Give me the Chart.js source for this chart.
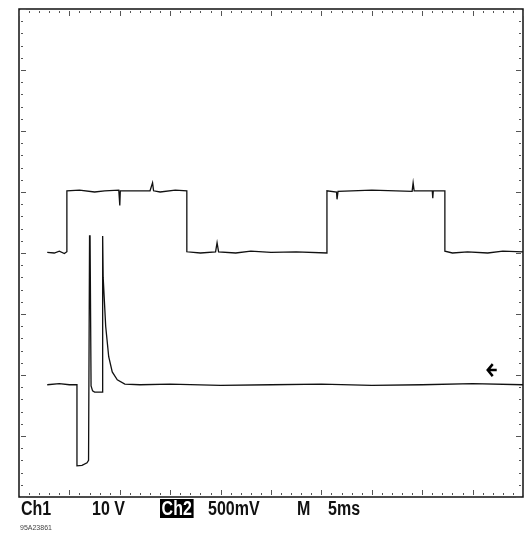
<!DOCTYPE html>
<html><head><meta charset="utf-8">
<script src="https://cdn.jsdelivr.net/npm/chart.js@4"></script>
<style>
body{margin:0;background:#fff;width:532px;height:542px;overflow:hidden;position:relative;font-family:"Liberation Sans Narrow","Liberation Sans",Arial,sans-serif}
#c{position:absolute;left:0;top:0}
.t{position:absolute;top:497px;font-size:20px;font-weight:bold;color:#111;transform:scaleX(0.8);transform-origin:left}
.inv{background:#000;color:#fff;padding:0 2px;line-height:19px;top:499px}
.s{position:absolute;left:20px;top:524px;font-size:7px;color:#444;font-family:"Liberation Sans",Arial}
</style></head><body>
<canvas id="c" width="532" height="542"></canvas>
<div class="t" style="left:21px">Ch1</div>
<div class="t" style="left:92px">10 V</div>
<div class="t inv" style="left:160px">Ch2</div>
<div class="t" style="left:208px">500mV</div>
<div class="t" style="left:297px">M</div>
<div class="t" style="left:328px">5ms</div>
<div class="s">95A23861</div>
<script>
// divisions: x 0..10, y 0..8
const ch1X = [0.56,0.7,0.8,0.9,0.95,0.95,1.2,1.5,1.7,1.98,2.0,2.01,2.1,2.6,2.65,2.67,2.8,3.1,3.33,3.33,3.6,3.9,3.93,3.96,4.3,4.6,5.0,5.5,6.11,6.11,6.3,6.31,6.33,6.6,7.0,7.8,7.82,7.84,8.2,8.21,8.22,8.45,8.45,8.6,8.9,9.3,9.6,10];
const ch1Y = [4.01,4.0,4.03,3.99,4.02,5.02,5.03,5.0,5.02,5.03,4.78,5.02,5.02,5.02,5.15,5.02,5.0,5.03,5.02,4.02,4.0,4.02,4.17,4.02,4.0,4.03,4.01,4.02,4.0,5.02,5.0,4.88,5.01,5.02,5.03,5.01,5.15,5.02,5.02,4.9,5.02,5.02,4.03,4.0,4.02,4.0,4.03,4.02];
const ch2X = [0.56,0.8,1.0,1.15,1.15,1.25,1.35,1.38,1.4,1.41,1.43,1.46,1.5,1.65,1.66,1.67,1.72,1.78,1.85,1.95,2.1,2.4,3,4,5,6,7,8,9,10];
const ch2Y = [1.84,1.86,1.84,1.84,0.51,0.52,0.56,0.6,4.28,4.28,1.82,1.74,1.72,1.72,4.28,3.6,2.8,2.3,2.05,1.92,1.85,1.84,1.85,1.83,1.84,1.85,1.83,1.84,1.86,1.84];
const pts=(xs,ys)=>xs.map((x,i)=>({x,y:ys[i]}));
const frame={id:'frame',afterDraw(ch){
 const {ctx,scales:{x,y},chartArea:a}=ch;
 ctx.save();ctx.strokeStyle='#111';ctx.lineWidth=1.5;ctx.strokeRect(a.left,a.top,a.right-a.left,a.bottom-a.top);
 ctx.fillStyle='#555';
 for(let v=0;v<=10.001;v+=0.2){const px=Math.round(x.getPixelForValue(v));const maj=Math.abs(v-Math.round(v))<0.01;
  ctx.fillRect(px,a.top+2,1,maj?5:2);ctx.fillRect(px,a.bottom-(maj?7:4),1,maj?5:2);}
 for(let v=0;v<=8.001;v+=0.2){const py=Math.round(y.getPixelForValue(v));const maj=Math.abs(v-Math.round(v))<0.01;
  ctx.fillRect(a.left+2,py,maj?5:2,1);ctx.fillRect(a.right-(maj?7:4),py,maj?5:2,1);}
 const ay=y.getPixelForValue(2.08),ax=x.getPixelForValue(9.3);
 ctx.strokeStyle='#000';ctx.lineWidth=2.5;ctx.beginPath();ctx.moveTo(ax+9,ay);ctx.lineTo(ax,ay);ctx.moveTo(ax+5,ay-6);ctx.lineTo(ax,ay);ctx.lineTo(ax+5,ay+6);ctx.stroke();
 ctx.restore();}};
new Chart(document.getElementById('c'),{type:'scatter',
 data:{datasets:[
  {data:pts(ch1X,ch1Y),showLine:true,borderColor:'#111',borderWidth:1.3,pointRadius:0,tension:0},
  {data:pts(ch2X,ch2Y),showLine:true,borderColor:'#111',borderWidth:1.3,pointRadius:0,tension:0}]},
 options:{responsive:false,animation:false,layout:{padding:{left:19,right:9,top:9,bottom:45}},
  plugins:{legend:{display:false},tooltip:{enabled:false}},
  scales:{x:{type:'linear',min:0,max:10,display:false},y:{type:'linear',min:0,max:8,display:false}}},
 plugins:[frame]});
</script></body></html>
